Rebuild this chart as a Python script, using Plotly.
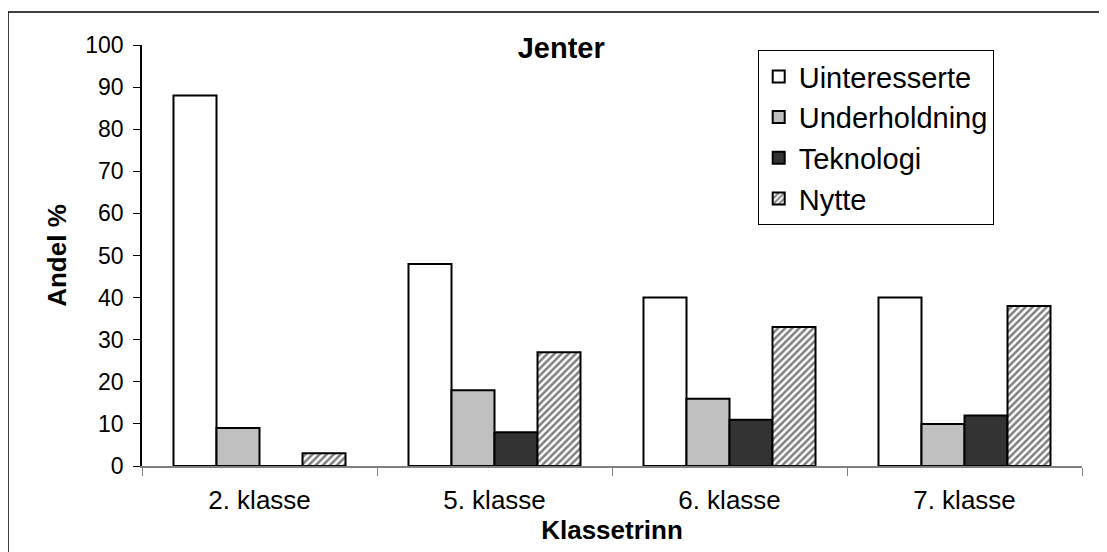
import plotly.graph_objects as go

categories = ["2. klasse", "5. klasse", "6. klasse", "7. klasse"]
uinteresserte = [88, 48, 40, 40]
underholdning = [9, 18, 16, 10]
teknologi = [0, 8, 11, 12]
nytte = [3, 27, 33, 38]

FONT = "Liberation Sans, Arial, sans-serif"

fig = go.Figure()
line = dict(color="black", width=2)
fig.add_trace(go.Bar(name="Uinteresserte", x=categories, y=uinteresserte,
                     marker=dict(color="white", line=line), legendgroup="a"))
fig.add_trace(go.Bar(name="Underholdning", x=categories, y=underholdning,
                     marker=dict(color="#C0C0C0", line=line), legendgroup="b"))
fig.add_trace(go.Bar(name="Teknologi", x=categories, y=teknologi,
                     marker=dict(color="#333333", line=line), legendgroup="c"))
fig.add_trace(go.Bar(name="Nytte", x=categories, y=nytte,
                     marker=dict(color="white", line=line,
                                 pattern=dict(shape="/", fgcolor="black", bgcolor="white",
                                              size=5, solidity=0.5)),
                     legendgroup="d"))

fig.update_layout(
    width=1107, height=552,
    margin=dict(l=134, r=33, t=37, b=94),
    paper_bgcolor="white", plot_bgcolor="white",
    barmode="group", bargap=0.268, bargroupgap=0,
    font=dict(family=FONT, color="black"),
    title=dict(text="<b>Jenter</b>", font=dict(size=29, family=FONT, color="black"),
               xref="paper", x=0.446, xanchor="center",
               yref="container", y=1 - 40 / 552, yanchor="middle"),
    legend=dict(x=0.655, y=0.988, xanchor="left", yanchor="top",
                bordercolor="black", borderwidth=1, bgcolor="white",
                font=dict(size=29, family=FONT, color="black"),
                traceorder="grouped", tracegroupgap=0),
    xaxis=dict(type="category", tickson="boundaries", ticks="outside", ticklen=8,
               tickcolor="#808080", showline=True, linecolor="#808080", linewidth=1.5,
               tickfont=dict(size=26, family=FONT, color="black"),
               ticklabelstandoff=10,
               title=dict(text="<b>Klassetrinn</b>", font=dict(size=26, family=FONT, color="black"),
                          standoff=2),
               showgrid=False, zeroline=False),
    yaxis=dict(range=[0, 100], dtick=10, ticks="outside", ticklen=7, tickcolor="black",
               showline=True, linecolor="black", linewidth=1.5,
               tickfont=dict(size=23, family=FONT, color="black"),
               ticklabelstandoff=5,
               title=dict(text="<b>Andel %</b>", font=dict(size=26, family=FONT, color="black"),
                          standoff=11),
               showgrid=False, zeroline=False),
    shapes=[dict(type="rect", xref="paper", yref="paper",
                 x0=(8 - 142) / 940, x1=1.2, y0=-0.4, y1=(466 - 12) / 421,
                 line=dict(color="black", width=1.5), fillcolor="rgba(0,0,0,0)", layer="below")],
)

fig.write_html("out.html")
